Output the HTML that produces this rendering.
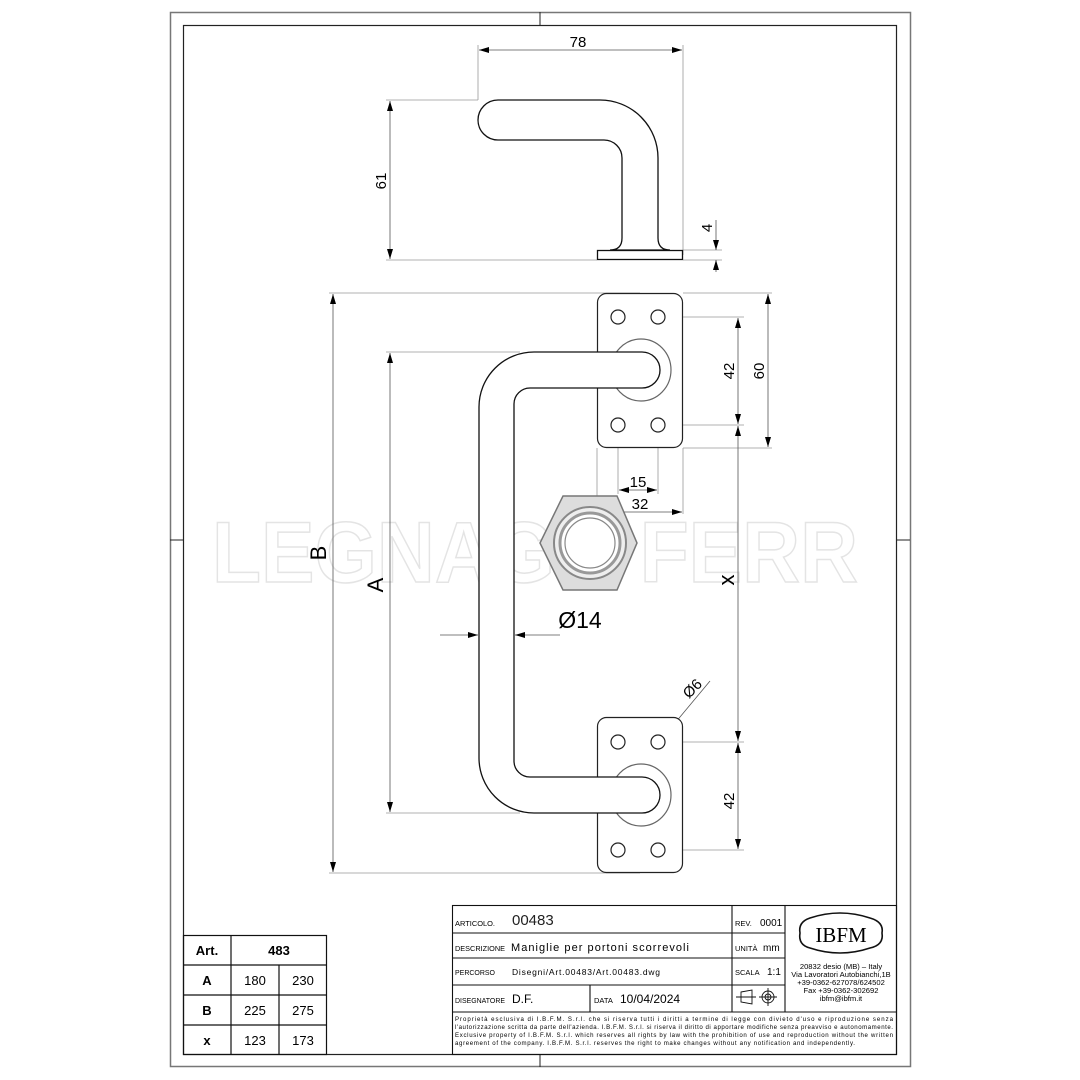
<!DOCTYPE html>
<html><head><meta charset="utf-8"><style>
html,body{margin:0;padding:0;background:#fff}
svg{display:block}
text{font-family:"Liberation Sans",sans-serif}
</style></head><body>
<svg width="1080" height="1080" viewBox="0 0 1080 1080" xmlns="http://www.w3.org/2000/svg">
<defs>
<marker id="ar" viewBox="0 0 10 6" refX="10" refY="3" markerWidth="10" markerHeight="6" orient="auto-start-reverse" markerUnits="userSpaceOnUse"><path d="M0,0 L10,3 L0,6 Z" fill="#000"/></marker>
</defs>
<rect x="0" y="0" width="1080" height="1080" fill="#fff"/>
<rect x="170.5" y="12.5" width="740" height="1054" fill="none" stroke="#777" stroke-width="1.5"/>
<rect x="183.5" y="25.5" width="713" height="1029" fill="none" stroke="#222" stroke-width="1.2"/>
<line x1="540" y1="12" x2="540" y2="25" stroke="#222"/>
<line x1="540" y1="1055" x2="540" y2="1067" stroke="#222"/>
<line x1="170" y1="540" x2="184" y2="540" stroke="#222"/>
<line x1="896" y1="540" x2="910" y2="540" stroke="#222"/>

<text x="212" y="582" font-size="86" font-weight="bold" fill="none" stroke="#e4e4e4" stroke-width="1.5" textLength="646" lengthAdjust="spacingAndGlyphs">LEGNAGO FERR</text>

<g stroke="#999" stroke-width="0.8" fill="none">
<line x1="478" y1="45" x2="478" y2="100"/>
<line x1="683" y1="45" x2="683" y2="255"/>
<line x1="386" y1="100" x2="478" y2="100"/>
<line x1="386" y1="260" x2="597" y2="260"/>
<line x1="683" y1="250" x2="722" y2="250"/>
<line x1="683" y1="260" x2="722" y2="260"/>
</g>
<g stroke="#555" stroke-width="0.8">
<line x1="479" y1="50" x2="682" y2="50" marker-start="url(#ar)" marker-end="url(#ar)"/>
<line x1="390" y1="101" x2="390" y2="259" marker-start="url(#ar)" marker-end="url(#ar)"/>
<line x1="716" y1="220" x2="716" y2="250" marker-end="url(#ar)"/>
<line x1="716" y1="272" x2="716" y2="260" marker-end="url(#ar)"/>
</g>
<text x="578" y="47" text-anchor="middle" font-size="15">78</text>
<text transform="translate(386,181) rotate(-90)" text-anchor="middle" font-size="15">61</text>
<text transform="translate(712,228) rotate(-90)" text-anchor="middle" font-size="15">4</text>
<path d="M498 100 L600 100 A58 58 0 0 1 658 158 L658 238 Q658 250 670 250 L610 250 Q622 250 622 238 L622 158 A18 18 0 0 0 604 140 L498 140 A20 20 0 0 1 498 100 Z" fill="#fff" stroke="#111" stroke-width="1.3"/>
<rect x="597.5" y="250.5" width="85" height="9" fill="#fff" stroke="#111" stroke-width="1.3"/>

<g stroke="#999" stroke-width="0.8" fill="none">
<line x1="329" y1="293" x2="640" y2="293"/>
<line x1="329" y1="873" x2="640" y2="873"/>
<line x1="386" y1="352" x2="520" y2="352"/>
<line x1="386" y1="813" x2="520" y2="813"/>
<line x1="665" y1="317" x2="744" y2="317"/>
<line x1="665" y1="425" x2="744" y2="425"/>
<line x1="683" y1="293" x2="772" y2="293"/>
<line x1="683" y1="448" x2="772" y2="448"/>
<line x1="665" y1="742" x2="744" y2="742"/>
<line x1="665" y1="850" x2="744" y2="850"/>
<line x1="618" y1="432" x2="618" y2="494"/>
<line x1="658" y1="432" x2="658" y2="494"/>
<line x1="597" y1="448" x2="597" y2="514"/>
<line x1="683" y1="448" x2="683" y2="514"/>
</g>
<g stroke="#555" stroke-width="0.8">
<line x1="333" y1="294" x2="333" y2="872" marker-start="url(#ar)" marker-end="url(#ar)"/>
<line x1="390" y1="353" x2="390" y2="812" marker-start="url(#ar)" marker-end="url(#ar)"/>
<line x1="738" y1="318" x2="738" y2="424" marker-start="url(#ar)" marker-end="url(#ar)"/>
<line x1="738" y1="426" x2="738" y2="741" marker-start="url(#ar)" marker-end="url(#ar)"/>
<line x1="738" y1="743" x2="738" y2="849" marker-start="url(#ar)" marker-end="url(#ar)"/>
<line x1="768" y1="294" x2="768" y2="447" marker-start="url(#ar)" marker-end="url(#ar)"/>
<line x1="619" y1="490" x2="657" y2="490" marker-start="url(#ar)" marker-end="url(#ar)"/>
<line x1="598" y1="512" x2="682" y2="512" marker-start="url(#ar)" marker-end="url(#ar)"/>
<line x1="440" y1="635" x2="478" y2="635" marker-end="url(#ar)"/>
<line x1="560" y1="635" x2="515" y2="635" marker-end="url(#ar)"/>
<line x1="644" y1="757" x2="652" y2="748" marker-end="url(#ar)"/>
<line x1="710" y1="681" x2="665" y2="735" marker-end="url(#ar)"/>
</g>
<text transform="translate(326,553) rotate(-90)" text-anchor="middle" font-size="22">B</text>
<text transform="translate(383,585) rotate(-90)" text-anchor="middle" font-size="22">A</text>
<text transform="translate(734,580) rotate(-90)" text-anchor="middle" font-size="22">x</text>
<text transform="translate(734,371) rotate(-90)" text-anchor="middle" font-size="15">42</text>
<text transform="translate(764,371) rotate(-90)" text-anchor="middle" font-size="15">60</text>
<text transform="translate(734,801) rotate(-90)" text-anchor="middle" font-size="15">42</text>
<text x="638" y="487" text-anchor="middle" font-size="15">15</text>
<text x="640" y="509" text-anchor="middle" font-size="15">32</text>
<text x="580" y="628" text-anchor="middle" font-size="23">Ø14</text>
<text transform="translate(696,692) rotate(-45)" text-anchor="middle" font-size="15">Ø6</text>

<g fill="#fff" stroke="#222" stroke-width="1.2">
<rect x="597.5" y="293.5" width="85" height="154" rx="9"/>
<rect x="597.5" y="717.5" width="85" height="155" rx="9"/>
<circle cx="618" cy="317" r="7"/><circle cx="658" cy="317" r="7"/>
<circle cx="618" cy="425" r="7"/><circle cx="658" cy="425" r="7"/>
<circle cx="618" cy="742" r="7"/><circle cx="658" cy="742" r="7"/>
<circle cx="618" cy="850" r="7"/><circle cx="658" cy="850" r="7"/>
<ellipse cx="641" cy="370" rx="30" ry="31" stroke="#666"/>
<ellipse cx="641" cy="795" rx="30" ry="31" stroke="#666"/>
</g>
<path d="M642 352 L534 352 A55 55 0 0 0 479 407 L479 758 A55 55 0 0 0 534 813 L642 813 A18 18 0 0 0 642 777 L530 777 A16 16 0 0 1 514 761 L514 404 A16 16 0 0 1 530 388 L642 388 A18 18 0 0 0 642 352 Z" fill="#fff" stroke="#111" stroke-width="1.3"/>
<g>
<polygon points="563,496 617,496 637,543 617,590 563,590 540,543" fill="#ddd" stroke="#777" stroke-width="1.5"/>
<circle cx="590" cy="543" r="36" fill="#eee" stroke="#888" stroke-width="2"/>
<circle cx="590" cy="543" r="30" fill="#fff" stroke="#999" stroke-width="3"/>
<circle cx="590" cy="543" r="25" fill="#fff" stroke="#888" stroke-width="1.2"/>
</g>

<g stroke="#111" stroke-width="1.2" fill="none">
<rect x="183.5" y="935.5" width="143" height="119"/>
<line x1="183" y1="965" x2="327" y2="965"/>
<line x1="183" y1="995" x2="327" y2="995"/>
<line x1="183" y1="1025" x2="327" y2="1025"/>
<line x1="231" y1="935" x2="231" y2="1055"/>
<line x1="279" y1="965" x2="279" y2="1055"/>
</g>
<g font-size="13" text-anchor="middle">
<text x="207" y="955" font-weight="bold">Art.</text>
<text x="279" y="955" font-weight="bold">483</text>
<text x="207" y="985" font-weight="bold">A</text><text x="255" y="985">180</text><text x="303" y="985">230</text>
<text x="207" y="1015" font-weight="bold">B</text><text x="255" y="1015">225</text><text x="303" y="1015">275</text>
<text x="207" y="1045" font-weight="bold">x</text><text x="255" y="1045">123</text><text x="303" y="1045">173</text>
</g>

<g stroke="#111" stroke-width="1.1" fill="none">
<rect x="452.5" y="905.5" width="444" height="149"/>
<line x1="452" y1="933" x2="785" y2="933"/>
<line x1="452" y1="958" x2="785" y2="958"/>
<line x1="452" y1="985" x2="785" y2="985"/>
<line x1="452" y1="1012" x2="896" y2="1012"/>
<line x1="732" y1="905" x2="732" y2="1012"/>
<line x1="785" y1="905" x2="785" y2="1012"/>
<line x1="590" y1="985" x2="590" y2="1012"/>
</g>
<g font-size="7.5">
<text x="455" y="926" textLength="40" lengthAdjust="spacingAndGlyphs">ARTICOLO.</text>
<text x="455" y="951" textLength="50" lengthAdjust="spacingAndGlyphs">DESCRIZIONE</text>
<text x="455" y="975" textLength="40" lengthAdjust="spacingAndGlyphs">PERCORSO</text>
<text x="455" y="1003" textLength="50" lengthAdjust="spacingAndGlyphs">DISEGNATORE</text>
<text x="594" y="1003">DATA</text>
<text x="735" y="926">REV.</text>
<text x="735" y="951">UNITÀ</text>
<text x="735" y="975">SCALA</text>
</g>
<text x="512" y="925" font-size="15" fill="#222">00483</text>
<text x="511" y="951" font-size="11" textLength="178" lengthAdjust="spacing">Maniglie per portoni scorrevoli</text>
<text x="512" y="975" font-size="8.5" textLength="148" lengthAdjust="spacing">Disegni/Art.00483/Art.00483.dwg</text>
<text x="512" y="1003" font-size="12">D.F.</text>
<text x="620" y="1003" font-size="12">10/04/2024</text>
<text x="760" y="926" font-size="10">0001</text>
<text x="763" y="951" font-size="10">mm</text>
<text x="767" y="975" font-size="10">1:1</text>
<g stroke="#111" stroke-width="0.9" fill="none">
<path d="M741 992 L752 990 L752 1004 L741 1002 Z"/>
<line x1="736" y1="997" x2="756" y2="997"/>
<circle cx="768" cy="997" r="6"/><circle cx="768" cy="997" r="3"/>
<line x1="759" y1="997" x2="777" y2="997"/><line x1="768" y1="988" x2="768" y2="1006"/>
</g>
<path d="M810 918 Q840 908 870 918 Q884 922 882 933 Q884 945 870 948 Q840 958 810 948 Q798 945 800 933 Q798 922 810 918 Z" fill="none" stroke="#111" stroke-width="1.6"/>
<text x="841" y="942" text-anchor="middle" font-size="21" style="font-family:'Liberation Serif',serif">IBFM</text>
<g font-size="7.6" text-anchor="middle">
<text x="841" y="969">20832 desio (MB) – Italy</text>
<text x="841" y="977">Via Lavoratori Autobianchi,1B</text>
<text x="841" y="985">+39-0362-627078/624502</text>
<text x="841" y="993">Fax +39-0362-302692</text>
<text x="841" y="1001">ibfm@ibfm.it</text>
</g>
<g font-size="6.1">
<text x="455" y="1021" textLength="438" lengthAdjust="spacing">Proprietà esclusiva di I.B.F.M. S.r.l. che si riserva tutti i diritti a termine di legge con divieto d'uso e riproduzione senza</text>
<text x="455" y="1029" textLength="438" lengthAdjust="spacing">l'autorizzazione scritta da parte dell'azienda. I.B.F.M. S.r.l. si riserva il diritto di apportare modifiche senza preavviso e autonomamente.</text>
<text x="455" y="1037" textLength="438" lengthAdjust="spacing">Exclusive property of I.B.F.M. S.r.l. which reserves all rights by law with the prohibition of use and reproduction without the written</text>
<text x="455" y="1045" textLength="400" lengthAdjust="spacing">agreement of the company. I.B.F.M. S.r.l. reserves the right to make changes without any notification and independently.</text>
</g>
</svg>
</body></html>
